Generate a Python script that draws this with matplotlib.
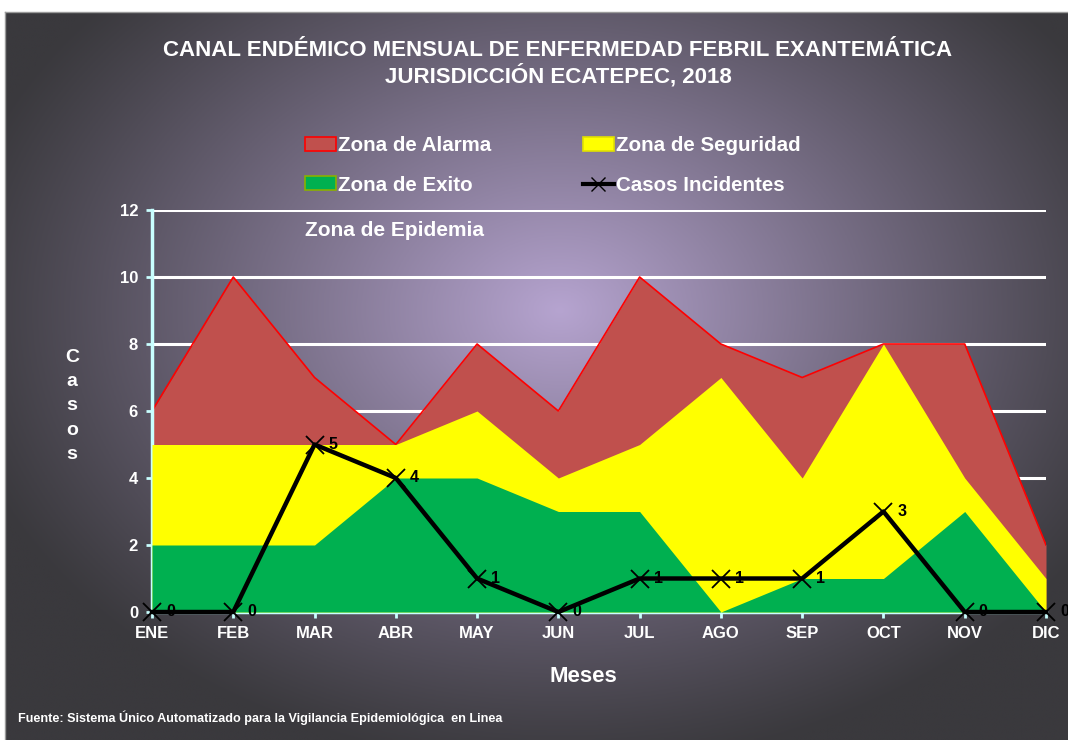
import numpy as np
import matplotlib
matplotlib.use("Agg")
import matplotlib.pyplot as plt
from matplotlib.patches import Patch
from matplotlib.lines import Line2D

plt.rcParams['font.family'] = ['Liberation Sans', 'DejaVu Sans']
plt.rcParams['font.weight'] = 'bold'

meses = ["ENE", "FEB", "MAR", "ABR", "MAY", "JUN", "JUL", "AGO", "SEP", "OCT", "NOV", "DIC"]
zona_alarma = [6, 10, 7, 5, 8, 6, 10, 8, 7, 8, 8, 2]
zona_seguridad = [5, 5, 5, 5, 6, 4, 5, 7, 4, 8, 4, 1]
zona_exito = [2, 2, 2, 4, 4, 3, 3, 0, 1, 1, 3, 0]
casos = [0, 0, 5, 4, 1, 0, 1, 1, 1, 3, 0, 0]
y_ticks = [0, 2, 4, 6, 8, 10, 12]

W, H = 1068, 740
fig = plt.figure(figsize=(W / 100, H / 100), dpi=100, facecolor="white")

# dark panel with radial purple glow
bg = fig.add_axes([5 / W, 0, 1 - 5 / W, 1 - 12 / H], zorder=-5)
gx, gy = np.meshgrid(np.linspace(5, W, 400), np.linspace(12, H, 300))
r = np.sqrt(((gx - 560) / 620) ** 2 + ((gy - 310) / 460) ** 2)
t = np.clip(1 - r, 0, 1) ** 1.1
dark = np.array([0x3a, 0x39, 0x3d]) / 255
light = np.array([0xb6, 0xa4, 0xd0]) / 255
img = dark[None, None, :] + (light - dark)[None, None, :] * t[:, :, None]
bg.imshow(img, aspect="auto", extent=[0, 1, 0, 1], origin="upper")
bg.set_axis_off()
fig.add_artist(Line2D([5 / W, 1], [1 - 12 / H, 1 - 12 / H], color="#9a9a9a", lw=1))
fig.add_artist(Line2D([5 / W, 5 / W], [0, 1 - 12 / H], color="#9a9a9a", lw=1))

ax = fig.add_axes([152 / W, 1 - 612 / H, (1046 - 152) / W, (612 - 210) / H])
ax.set_facecolor("none")
x = np.arange(len(meses))

for yv in y_ticks[1:]:
    ax.axhline(yv, color="white", lw=2.2, zorder=1)

ax.fill_between(x, 0, zona_alarma, color="#c0504d", lw=0, zorder=2)
ax.plot(x, zona_alarma, color="#ff0000", lw=1.2, zorder=2.5)
ax.fill_between(x, 0, zona_seguridad, color="#ffff00", lw=0, zorder=3)
ax.fill_between(x, 0, zona_exito, color="#00b050", lw=0, zorder=4)

ax.plot(x, casos, color="black", lw=3.2, marker="x", ms=13, mew=1.3,
        zorder=6, clip_on=False)
for xi, c in zip(x, casos):
    ax.annotate(str(c), (xi, c), xytext=(10, 0), textcoords="offset points",
                ha="left", va="center", fontsize=11.5, fontweight="bold",
                color="black", zorder=7, annotation_clip=False)

ax.set_xlim(0, 11)
ax.set_ylim(0, 12)
ax.set_xticks(x)
ax.set_xticklabels(meses)
ax.set_yticks(y_ticks)
for s in ["top", "right"]:
    ax.spines[s].set_visible(False)
for s in ["left", "bottom"]:
    ax.spines[s].set_color("#c8ffff")
    ax.spines[s].set_linewidth(2.5)
ax.tick_params(colors="#c8ffff", length=4, width=2, labelsize=12,
               labelcolor="white", pad=6)
for lbl in ax.get_xticklabels() + ax.get_yticklabels():
    lbl.set_fontweight("bold")

ax.text(153 / 894, 0.95, "Zona de Epidemia", transform=ax.transAxes, color="white",
        fontsize=15, fontweight="bold", ha="left", va="center")

fig.text(558 / W, 1 - 50 / H, "CANAL ENDÉMICO MENSUAL DE ENFERMEDAD FEBRIL EXANTEMÁTICA",
         ha="center", va="center", color="white", fontsize=16, fontweight="bold")
fig.text(558 / W, 1 - 76 / H, "JURISDICCIÓN ECATEPEC, 2018",
         ha="center", va="center", color="white", fontsize=16, fontweight="bold")

fig.text(72 / W, 1 - 406 / H, "C\na\ns\no\ns", ha="center", va="center",
         color="white", fontsize=14, fontweight="bold", linespacing=1.55)
fig.text(583 / W, 1 - 676 / H, "Meses", ha="center", va="center",
         color="white", fontsize=16, fontweight="bold")
fig.text(18 / W, 1 - 718 / H,
         "Fuente: Sistema Único Automatizado para la Vigilancia Epidemiológica  en Linea",
         ha="left", va="center", color="white", fontsize=9.1, fontweight="bold")

handles = [
    Patch(facecolor="#c0504d", edgecolor="#ff0000", lw=1.2),
    Patch(facecolor="#00b050", edgecolor="#8ab000", lw=1.2),
    Patch(facecolor="#ffff00", edgecolor="#e0e000", lw=1.2),
    Line2D([], [], color="black", lw=3, marker="x", ms=10, mew=1),
]
labels = ["Zona de Alarma", "Zona de Exito", "Zona de Seguridad", "Casos Incidentes"]
leg = fig.legend(handles, labels, ncol=2, loc="upper left",
                 bbox_to_anchor=(305 / W, 1 - 136 / H), frameon=False,
                 borderpad=0, borderaxespad=0,
                 handlelength=1.5, handleheight=0.65, handletextpad=0.12,
                 columnspacing=4.45, labelspacing=1.0,
                 prop={"size": 14.8, "weight": "bold"})
for txt in leg.get_texts():
    txt.set_color("white")

fig.savefig("out.png", dpi=100)
